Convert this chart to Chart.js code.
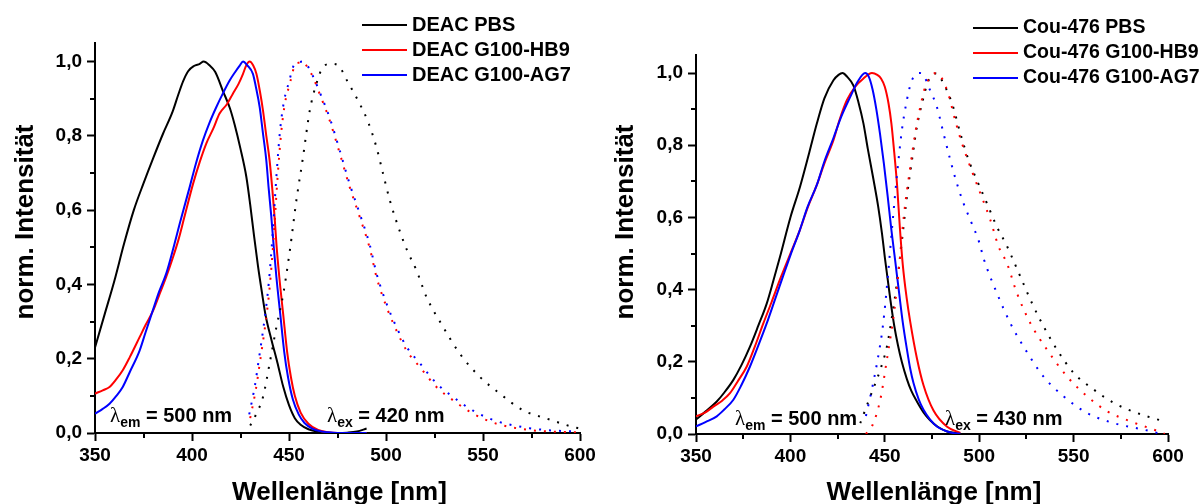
<!DOCTYPE html>
<html>
<head>
<meta charset="utf-8">
<script src="https://cdn.jsdelivr.net/npm/chart.js@4.4.0/dist/chart.umd.min.js"></script>
<style>
html, body { margin: 0; padding: 0; background: #fff; overflow: hidden; }
#wrap { position: relative; width: 1202px; height: 504px; }
.box { position: absolute; top: 0; height: 504px; }
#left { left: 0; width: 600px; }
#right { left: 600px; width: 602px; }
</style>
</head>
<body>
<div id="wrap">
    <div class="box" id="left"><canvas id="chartL"></canvas></div>
    <div class="box" id="right"><canvas id="chartR"></canvas></div>
</div>
<script>
// ticks
var xTicks = [350, 400, 450, 500, 550, 600];
var xMinor = [375, 425, 475, 525, 575];
var yTicks = [0, 0.2, 0.4, 0.6, 0.8, 1.0];
var yMinor = [0.1, 0.3, 0.5, 0.7, 0.9];

var xTitle = 'Wellenlänge [nm]';
var yTitle = 'norm. Intensität';

// DEAC, excitation (lambda_em = 500 nm), solid
var deacPbsEx = [[350,0.23],[355,0.32],[360,0.41],[365,0.51],[370,0.60],[375,0.672],[380,0.74],[385,0.805],[390,0.865],[393,0.912],[395.5,0.948],[398,0.974],[401,0.988],[404,0.994],[406,1.0],[409,0.99],[412,0.972],[416,0.92],[419.5,0.875],[422,0.83],[425,0.765],[428,0.69],[430,0.615],[432,0.53],[434,0.45],[436,0.38],[438,0.315],[441,0.25],[444,0.19],[447,0.125],[450,0.075],[453,0.04],[456,0.022],[460,0.01],[465,0.003],[470,0.0],[475,0.0],[480,0.001],[485,0.004],[490,0.012]];
var deacHb9Ex = [[350,0.106],[354,0.115],[357.5,0.124],[361,0.145],[364.3,0.169],[368,0.205],[373,0.258],[376,0.29],[380,0.33],[383,0.37],[386.7,0.42],[390,0.47],[393,0.52],[396,0.58],[400.5,0.67],[404,0.73],[407.4,0.78],[411,0.82],[414.2,0.86],[418,0.885],[421,0.913],[424,0.94],[426.3,0.967],[428,0.99],[429.7,1.0],[431.5,0.99],[433.2,0.967],[435,0.92],[436.6,0.868],[438.3,0.80],[440,0.734],[441.5,0.65],[442.6,0.58],[443.5,0.51],[445,0.42],[447,0.32],[449,0.22],[451,0.15],[453,0.10],[456,0.055],[460,0.025],[465,0.008],[470,0.002],[475,0.0],[480,0.0],[490,0.0]];
var deacAg7Ex = [[350,0.052],[354,0.065],[357.5,0.079],[361,0.10],[364.3,0.124],[368,0.165],[373,0.222],[376,0.27],[379.8,0.33],[383,0.38],[386.7,0.429],[390,0.49],[394,0.57],[398.8,0.662],[402,0.725],[405.6,0.787],[409,0.835],[412.5,0.877],[416,0.915],[419.4,0.949],[422,0.97],[424.6,0.989],[426.3,1.0],[428.5,0.99],[431.4,0.967],[433,0.93],[434.9,0.877],[436.5,0.81],[438.3,0.734],[439.5,0.66],[440.9,0.581],[442,0.51],[443.5,0.42],[445.5,0.32],[447.5,0.22],[449.5,0.15],[452,0.09],[455,0.05],[458,0.027],[462,0.012],[466,0.005],[470,0.002],[475,0.0],[480,0.0],[490,0.0]];

// DEAC, emission (lambda_ex = 420 nm), dotted
var deacPbsEm = [[430,0.02],[433,0.05],[436.6,0.097],[440,0.187],[443.5,0.285],[446.9,0.37],[450.4,0.49],[453.8,0.626],[457.2,0.742],[460.7,0.868],[464.1,0.94],[467.5,0.985],[471.9,0.994],[475.3,0.99],[480.4,0.944],[485.6,0.895],[490.8,0.837],[495.1,0.769],[498.5,0.698],[502,0.626],[507,0.545],[511,0.49],[515.7,0.438],[520.9,0.366],[529.5,0.285],[538,0.214],[548.4,0.151],[558.7,0.106],[570.7,0.061],[582.8,0.039],[596.5,0.016],[600,0.012]];
var deacHb9Em = [[430,0.04],[433,0.12],[435,0.19],[438,0.30],[440,0.39],[442,0.52],[444,0.68],[446,0.81],[448,0.89],[450.4,0.94],[453,0.99],[455,0.997],[457.2,1.0],[460,0.98],[462.4,0.958],[465.8,0.913],[471,0.841],[476.2,0.752],[481.3,0.662],[486.5,0.581],[491.7,0.496],[495.1,0.42],[500.3,0.339],[505.4,0.276],[510.6,0.222],[517.4,0.178],[526,0.124],[534.6,0.088],[544.9,0.052],[557,0.025],[574,0.008],[585,0.004],[598,0.002]];
var deacAg7Em = [[429.5,0.05],[432.5,0.13],[434.5,0.20],[437.5,0.31],[439.5,0.40],[441.5,0.53],[443.5,0.69],[445.5,0.82],[447.5,0.895],[450,0.945],[452.5,0.99],[455,0.998],[457,1.0],[460,0.985],[462.4,0.96],[465.8,0.918],[471,0.848],[476.2,0.76],[481.3,0.67],[486.5,0.59],[491.7,0.505],[495.1,0.43],[500.3,0.348],[505.4,0.285],[510.6,0.232],[517.4,0.188],[526,0.134],[534.6,0.097],[544.9,0.06],[557,0.032],[574,0.013],[585,0.007],[598,0.004]];

// Cou-476, excitation (lambda_em = 500 nm), solid
var couPbsEx = [[350,0.04],[355,0.062],[361,0.09],[365,0.115],[369.8,0.15],[374,0.19],[378.6,0.242],[383,0.30],[387.5,0.362],[391,0.425],[394.5,0.491],[400,0.60],[405.1,0.685],[410,0.78],[414,0.86],[418,0.93],[422.8,0.98],[425.5,0.995],[427.6,1.0],[430,0.99],[433.4,0.965],[436,0.92],[438.7,0.86],[441,0.79],[444,0.705],[446.5,0.63],[448.5,0.556],[450,0.49],[451.5,0.43],[453,0.37],[455,0.30],[457,0.245],[459,0.20],[461.7,0.152],[464,0.12],[467,0.09],[470.5,0.06],[474,0.038],[478,0.02],[483,0.007],[490,0.001]];
var couHb9Ex = [[350,0.049],[355,0.06],[359.2,0.076],[364,0.093],[368,0.113],[372,0.145],[376.9,0.187],[381,0.24],[385.7,0.307],[390,0.365],[395,0.435],[400,0.50],[405,0.565],[409,0.625],[414,0.69],[418,0.75],[422.8,0.814],[426,0.87],[429.9,0.925],[434,0.96],[438.7,0.985],[443.2,1.0],[446,0.995],[448,0.985],[450,0.962],[452,0.915],[453.5,0.86],[455,0.78],[456.5,0.69],[458,0.57],[459.5,0.47],[461.5,0.38],[463.5,0.31],[467,0.21],[470.5,0.135],[475.8,0.065],[483,0.02],[490,0.003]];
var couAg7Ex = [[350,0.021],[355,0.033],[361,0.049],[365,0.068],[369.8,0.095],[374,0.135],[378.6,0.187],[383,0.245],[387.5,0.307],[392,0.375],[396.3,0.44],[400,0.495],[405,0.565],[409,0.628],[414,0.69],[418,0.755],[422.8,0.82],[427,0.88],[431.7,0.934],[435.5,0.975],[439.6,1.0],[441.5,0.99],[443.5,0.955],[445.5,0.90],[447.5,0.83],[449.5,0.75],[451.5,0.66],[453.5,0.565],[455.5,0.48],[457.6,0.39],[459.5,0.31],[461.7,0.235],[463.5,0.18],[465.2,0.141],[468,0.095],[470.5,0.067],[474,0.04],[477.6,0.021],[482,0.009],[486,0.003],[490,0.001]];

// Cou-476, emission (lambda_ex = 430 nm), dotted
var couPbsEm = [[437,0.03],[442.3,0.104],[447.6,0.178],[451.1,0.242],[453.8,0.325],[456.4,0.418],[459.1,0.537],[461.7,0.657],[464.4,0.759],[467,0.851],[469.7,0.916],[473.2,0.98],[477.1,0.999],[481.1,0.971],[485.6,0.916],[490,0.833],[494.4,0.759],[498.8,0.703],[504.1,0.639],[509.4,0.574],[514.4,0.524],[516.5,0.5],[521.8,0.436],[528,0.362],[534.1,0.298],[541.3,0.233],[550.1,0.169],[560.7,0.123],[571.3,0.086],[583.7,0.058],[597.8,0.035]];
var couHb9Em = [[440,0.0],[443.2,0.021],[447.6,0.095],[451.1,0.206],[455,0.34],[457.5,0.46],[460,0.60],[463.5,0.74],[466.1,0.833],[468.8,0.906],[471.4,0.962],[474.1,0.989],[477.1,1.0],[480.3,0.985],[483.8,0.939],[487.3,0.869],[490.9,0.805],[495.3,0.74],[500.6,0.667],[505.9,0.593],[510.3,0.519],[514.7,0.473],[520,0.39],[527.1,0.307],[536,0.233],[546.6,0.159],[557.2,0.104],[567.8,0.063],[580.1,0.035],[592.5,0.012],[598.3,0.0]];
var couAg7Em = [[440,0.05],[443,0.12],[446,0.20],[449,0.30],[451.5,0.43],[454,0.58],[456.5,0.72],[459,0.84],[461.7,0.925],[464,0.975],[466.5,0.997],[468.5,1.0],[470.5,0.995],[474,0.952],[477.6,0.906],[481.1,0.833],[484.7,0.759],[488.2,0.694],[491.7,0.639],[495.3,0.593],[500,0.531],[502.3,0.487],[509.4,0.39],[516.5,0.307],[523.5,0.242],[534.1,0.159],[544.8,0.104],[557.2,0.058],[571.3,0.03],[587.2,0.012],[595,0.002]];

var FONT = '"Liberation Sans", Arial, sans-serif';

function fmt(v) {
    return v.toFixed(1).replace('.', ',');
}

function drawLambda(ctx, x, y, sub, rest) {
    ctx.textAlign = 'left';
    ctx.textBaseline = 'alphabetic';
    ctx.font = '21px "Liberation Serif", serif';
    ctx.fillText('λ', x, y);
    x += ctx.measureText('λ').width;
    ctx.font = 'bold 14px ' + FONT;
    ctx.fillText(sub, x, y + 5);
    x += ctx.measureText(sub).width;
    ctx.font = 'bold 20px ' + FONT;
    ctx.fillText(' ' + rest, x, y);
}

var decorPlugin = {
    id: 'decor',
    afterDraw: function (chart, args, opt) {
        var ctx = chart.ctx;
        var xs = chart.scales.x, ys = chart.scales.y;
        var area = chart.chartArea;
        ctx.save();
        ctx.fillStyle = '#000';
        ctx.strokeStyle = '#000';

        // minor ticks
        ctx.lineWidth = 2;
        ctx.beginPath();
        xMinor.forEach(function (v) {
            var px = Math.round(xs.getPixelForValue(v));
            ctx.moveTo(px, area.bottom);
            ctx.lineTo(px, area.bottom + 5);
        });
        yMinor.forEach(function (v) {
            var py = Math.round(ys.getPixelForValue(v));
            ctx.moveTo(area.left, py);
            ctx.lineTo(area.left - 5, py);
        });
        ctx.stroke();

        // axis titles
        ctx.font = 'bold 26px ' + FONT;
        ctx.textAlign = 'center';
        ctx.textBaseline = 'alphabetic';
        ctx.fillText(xTitle, (area.left + area.right) / 2 + 2, 500);
        ctx.save();
        ctx.translate(33, 222);
        ctx.rotate(-Math.PI / 2);
        ctx.fillText(yTitle, 0, 0);
        ctx.restore();

        // legend (solid series only)
        var row = 0;
        ctx.font = 'bold ' + opt.legendSize + 'px ' + FONT;
        ctx.textAlign = 'left';
        ctx.textBaseline = 'middle';
        chart.data.datasets.forEach(function (ds) {
            if (ds.dotted) return;
            var y = opt.legendY + row * 25;
            ctx.strokeStyle = ds.borderColor;
            ctx.lineWidth = 2;
            ctx.beginPath();
            ctx.moveTo(opt.legendX, y);
            ctx.lineTo(opt.legendX + 45, y);
            ctx.stroke();
            ctx.fillStyle = '#000';
            ctx.fillText(ds.label, opt.legendX + 50, y);
            row++;
        });

        // lambda notes
        ctx.fillStyle = '#000';
        opt.notes.forEach(function (n) {
            drawLambda(ctx, n[0], n[1], n[2], n[3]);
        });
        ctx.restore();
    }
};

function makeChart(id, series, opt) {
    var datasets = series.map(function (s, i) {
        return {
            label: s.label,
            data: s.data.map(function (p) { return {x: p[0], y: p[1]}; }),
            borderColor: s.color,
            borderWidth: 2,
            borderDash: s.dotted ? [2, 8] : [],
            pointRadius: 0,
            cubicInterpolationMode: 'monotone',
            fill: false,
            order: series.length - i,
            dotted: s.dotted
        };
    });
    var tickFont = {family: FONT, size: 19, weight: 'bold'};
    return new Chart(document.getElementById(id), {
        type: 'line',
        data: {datasets: datasets},
        options: {
            responsive: true,
            maintainAspectRatio: false,
            animation: false,
            layout: {padding: {left: 0, right: opt.padRight, top: opt.padTop, bottom: 0}},
            plugins: {
                legend: {display: false},
                tooltip: {enabled: false},
                decor: opt
            },
            scales: {
                x: {
                    type: 'linear',
                    min: 350,
                    max: 600,
                    afterBuildTicks: function (s) { s.ticks = xTicks.map(function (v) { return {value: v}; }); },
                    afterFit: function (s) { s.height = opt.xHeight; },
                    border: {color: '#000', width: 2},
                    grid: {drawOnChartArea: false, tickLength: 8, tickWidth: 2, tickColor: '#000'},
                    ticks: {color: '#000', font: tickFont, padding: 3, maxRotation: 0,
                        callback: function (v) { return v; }}
                },
                y: {
                    min: 0,
                    max: 1.05,
                    afterBuildTicks: function (s) { s.ticks = yTicks.map(function (v) { return {value: v}; }); },
                    afterFit: function (s) { s.width = opt.yWidth; },
                    border: {color: '#000', width: 2},
                    grid: {drawOnChartArea: false, tickLength: 8, tickWidth: 2, tickColor: '#000'},
                    ticks: {color: '#000', font: tickFont, padding: 5,
                        callback: function (v) { return fmt(v); }}
                }
            }
        },
        plugins: [decorPlugin]
    });
}

makeChart('chartL', [
    {label: 'DEAC PBS', color: '#000000', data: deacPbsEx},
    {label: 'DEAC G100-HB9', color: '#ff0000', data: deacHb9Ex},
    {label: 'DEAC G100-AG7', color: '#0000ff', data: deacAg7Ex},
    {label: 'DEAC PBS em', color: '#000000', data: deacPbsEm, dotted: true},
    {label: 'DEAC G100-HB9 em', color: '#ff0000', data: deacHb9Em, dotted: true},
    {label: 'DEAC G100-AG7 em', color: '#0000ff', data: deacAg7Em, dotted: true}
], {
    padRight: 20, padTop: 43, xHeight: 71, yWidth: 95,
    legendX: 362, legendY: 25, legendSize: 20,
    notes: [[110, 422, 'em', '= 500 nm'], [327, 422, 'ex', '= 420 nm']]
});

makeChart('chartR', [
    {label: 'Cou-476 PBS', color: '#000000', data: couPbsEx},
    {label: 'Cou-476 G100-HB9', color: '#ff0000', data: couHb9Ex},
    {label: 'Cou-476 G100-AG7', color: '#0000ff', data: couAg7Ex},
    {label: 'Cou-476 PBS em', color: '#000000', data: couPbsEm, dotted: true},
    {label: 'Cou-476 G100-HB9 em', color: '#ff0000', data: couHb9Em, dotted: true},
    {label: 'Cou-476 G100-AG7 em', color: '#0000ff', data: couAg7Em, dotted: true}
], {
    padRight: 34, padTop: 55, xHeight: 70, yWidth: 96,
    legendX: 373, legendY: 28, legendSize: 19.5,
    notes: [[135, 425, 'em', '= 500 nm'], [345, 425, 'ex', '= 430 nm']]
});
</script>
</body>
</html>
